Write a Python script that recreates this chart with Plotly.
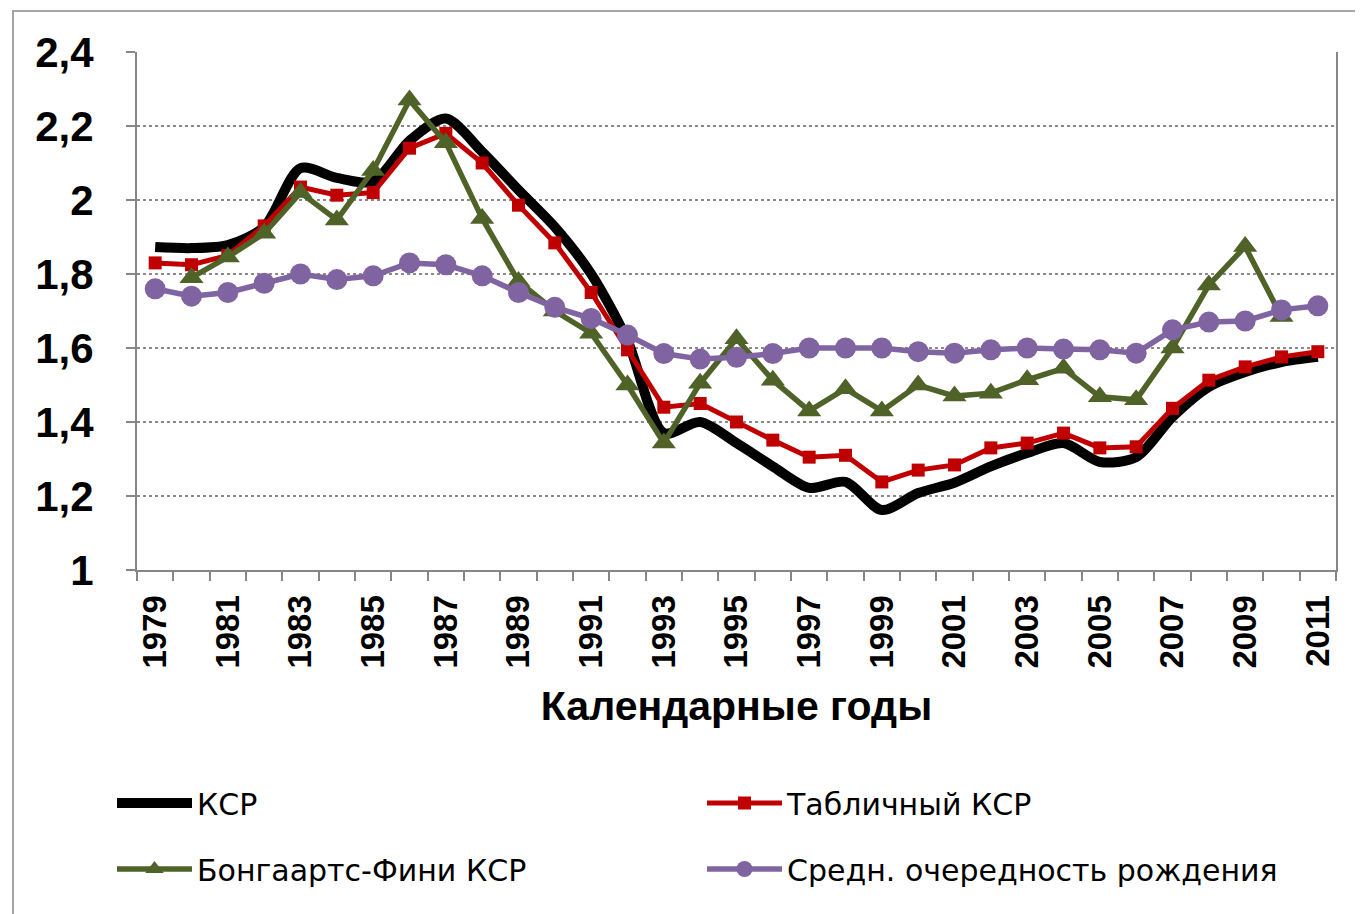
import plotly.graph_objects as go

years = [str(y) for y in range(1979, 2012)]

ksr = [1.873, 1.87, 1.878, 1.927, 2.086, 2.06, 2.05, 2.16, 2.22, 2.13, 2.027, 1.927, 1.80, 1.62,
       1.37, 1.40, 1.343, 1.28, 1.222, 1.238, 1.162, 1.208, 1.236, 1.28, 1.316, 1.343, 1.292,
       1.305, 1.414, 1.495, 1.535, 1.562, 1.576]

table_ksr = [1.83, 1.825, 1.85, 1.93, 2.035, 2.013, 2.02, 2.14, 2.18, 2.10, 1.986, 1.884, 1.75,
             1.595, 1.44, 1.45, 1.40, 1.351, 1.305, 1.31, 1.238, 1.27, 1.284, 1.33, 1.343, 1.37,
             1.33, 1.333, 1.437, 1.513, 1.549, 1.576, 1.59]

bf_ksr = [None, 1.79, 1.846, 1.91, 2.02, 1.946, 2.08, 2.27, 2.155, 1.95, 1.78, 1.70, 1.64, 1.50,
          1.343, 1.505, 1.625, 1.513, 1.43, 1.49, 1.43, 1.50, 1.47, 1.478, 1.514, 1.545, 1.468,
          1.46, 1.60, 1.77, 1.874, 1.685, None]

avg_order = [1.76, 1.74, 1.75, 1.775, 1.80, 1.785, 1.795, 1.83, 1.825, 1.795, 1.75, 1.71, 1.68,
             1.635, 1.585, 1.57, 1.575, 1.585, 1.60, 1.60, 1.60, 1.59, 1.586, 1.595, 1.60, 1.597,
             1.595, 1.586, 1.649, 1.67, 1.673, 1.703, 1.714]

tick_text = [y if int(y) % 2 == 1 else "" for y in years]

names = ["КСР", "Табличный КСР", "Бонгаартс-Фини КСР", "Средн. очередность рождения"]

fig = go.Figure()
fig.add_trace(go.Scatter(x=years, y=ksr, name=names[0], mode="lines",
                         line=dict(color="#000000", width=10, shape="spline", smoothing=0.8),
                         legend="legend"))
fig.add_trace(go.Scatter(x=years, y=table_ksr, name=names[1], mode="lines+markers",
                         line=dict(color="#C00000", width=5),
                         marker=dict(symbol="square", size=13, color="#C00000"),
                         legend="legend2"))
fig.add_trace(go.Scatter(x=years, y=bf_ksr, name=names[2], mode="lines+markers",
                         line=dict(color="#4F6228", width=5.5),
                         marker=dict(symbol="triangle-up", size=21, color="#4F6228"),
                         legend="legend3"))
fig.add_trace(go.Scatter(x=years, y=avg_order, name=names[3], mode="lines+markers",
                         line=dict(color="#8064A2", width=5.5),
                         marker=dict(symbol="circle", size=21, color="#8064A2"),
                         legend="legend4"))

OFF = 8  # page body margin
W, H = 1363, 914
L = 137 - OFF
T = 52 - OFF
R = W - (1336 - OFF)
B = H - (570 - OFF)
pw, ph = W - L - R, H - T - B


def px_x(xs):
    return (xs - OFF - L) / pw


def px_y(ys):
    return (H - B - (ys - OFF)) / ph


legend_common = dict(orientation="h", xanchor="left", yanchor="middle",
                     font=dict(family="DejaVu Sans", size=30, color="#000000"),
                     itemwidth=75, bgcolor="rgba(0,0,0,0)")

fig.update_layout(
    width=W, height=H,
    margin=dict(l=L, r=R, t=T, b=B, autoexpand=False),
    paper_bgcolor="white", plot_bgcolor="white",
    separators=", ",
    showlegend=True,
    legend=dict(x=px_x(112), y=px_y(803), **legend_common),
    legend2=dict(x=px_x(702), y=px_y(803), **legend_common),
    legend3=dict(x=px_x(112), y=px_y(869), **legend_common),
    legend4=dict(x=px_x(702), y=px_y(869), **legend_common),
    xaxis=dict(
        type="category",
        range=[-0.5, 32.5],
        tickmode="array", tickvals=years, ticktext=tick_text,
        tickson="boundaries",
        ticks="outside", ticklen=9, tickwidth=2, tickcolor="#868686",
        tickangle=-90,
        tickfont=dict(family="Liberation Sans", size=33, color="#000000", weight="bold"),
        showline=True, linecolor="#868686", linewidth=2,
        showgrid=False,
        ticklabelstandoff=10,
        automargin=False,
        title=dict(text="<b>Календарные годы</b>", standoff=24,
                   font=dict(family="Liberation Sans", size=41, color="#000000")),
    ),
    yaxis=dict(
        range=[1, 2.4], dtick=0.2, tick0=1,
        ticks="outside", ticklen=9, tickwidth=2, tickcolor="#868686",
        tickfont=dict(family="Liberation Sans", size=42, color="#000000", weight="bold"),
        showline=True, linecolor="#868686", linewidth=2, mirror=True,
        showgrid=True, gridcolor="#8a8a8a", gridwidth=1.5, griddash="dot",
        zeroline=False,
        automargin=False,
        ticklabelstandoff=24,
    ),
    shapes=[dict(type="rect", xref="paper", yref="paper",
                 x0=px_x(13), x1=px_x(1420), y0=px_y(980), y1=px_y(11),
                 line=dict(color="#A6A6A6", width=2), fillcolor="rgba(0,0,0,0)", layer="below")],
)

fig.write_html("out.html")
